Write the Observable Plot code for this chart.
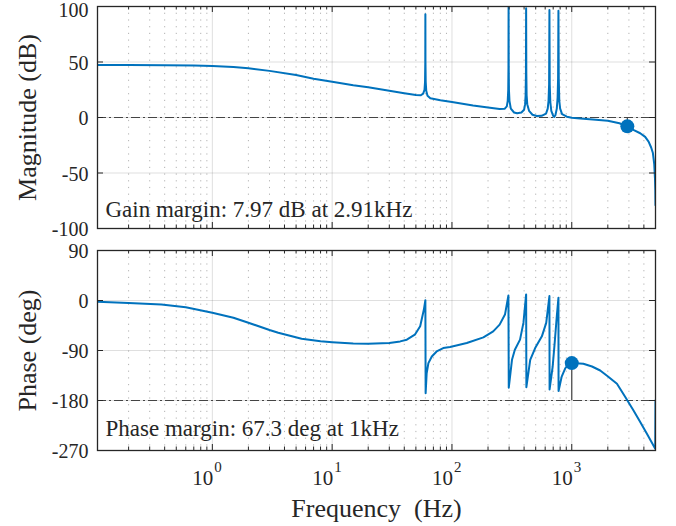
<!DOCTYPE html>
<html><head><meta charset="utf-8">
<script src="https://cdn.jsdelivr.net/npm/d3@7"></script>
<script src="https://cdn.jsdelivr.net/npm/@observablehq/plot@0.6"></script>
<style>html,body{margin:0;padding:0;background:#fff}#chart svg{display:block}</style>
</head><body><div id="chart"></div>
<script>
// ---- data ----
const freqMag = [0.11,0.2,0.4,0.7,1,1.5,2,3,5,7,10,15,20,30,40,50,55,57.5,59,59.6,59.9,60,60.1,60.4,61,62.5,66,80,100,150,200,250,275,287,292,295,296.3,297,297.7,299,302,310,330,350,380,400,408,412,414.5,416,417.5,420,425,440,470,510,560,610,630,640,647,651,655,662,675,700,713,730,750,762,769,774,779,787,800,830,910,1000,1175,1500,2000,2500,2910,3300,3725,4100,4378,4600,4756,4880,4950,4985,5000];
const magDB = [47.3,47.3,47.1,46.8,46.4,45.5,44.3,42.0,38.2,35.0,32.2,29.0,27.2,24.0,21.8,20.2,20.0,21.5,25,32,50,93,50,32,24,19.5,17.3,15.5,13.9,10.8,9.0,7.6,7.8,10,15,25,45,104,45,25,15,8,4.5,3.8,4.5,7,12,20,40,98.4,40,20,12,6,2.5,1.3,1.5,3.5,8,15,30,96.8,30,14,6,1.5,0.5,2,8,18,35,96.2,35,15,8,3,0.7,-0.2,-0.8,-1.8,-2.9,-5.2,-7.97,-11.3,-14.2,-17.5,-21.8,-27,-32,-42,-55,-66,-79];
const freqPhase = [0.11,0.2,0.376,0.6,1,1.5,2,3,3.55,5.56,8,10,15,20,30,37,42,49,54.3,58.3,60,60.3,61.5,63.6,67.9,74.5,84.6,96.4,133,183,221,250,277,296,298,317,335,370,395,416,418,450,495,563,612,651,653,693,720,750,774,776,824,884,937,1000,1250,1476,1727,2006,2384,2780,3277,3707,4240,4975,5000];
const phaseDeg = [-2.4,-4.5,-7.2,-12,-22,-31,-40,-53,-58,-69,-73.5,-75,-77.5,-77.8,-76.5,-73.6,-70.5,-61.5,-46.5,-16.3,0.5,-167,-131,-112.7,-100.7,-91.7,-85.6,-83.8,-76.5,-66.3,-55.5,-43.4,-25.3,9,-157,-106.7,-88.6,-70.5,-40.3,11,-156,-106.7,-85.6,-64.5,-40.3,8,-160,-118.8,-76.5,-28.4,5,-163,-137,-121.8,-115.8,-112.7,-113.9,-118.8,-126,-136.8,-150,-172.8,-198,-217.8,-240,-267,-180];
const gainMargin = {f: 2910, v: -7.97};
const phaseMargin = {f: 1000, v: -112.7};
const magTicks = [100, 50, 0, -50, -100];
const phaseTicks = [90, 0, -90, -180, -270];
const decades = [1, 10, 100, 1000];
const decadeExp = ["0", "1", "2", "3"];
const minorTicks = [0.1, 1, 10, 100, 1000].flatMap(d => [2,3,4,5,6,7,8,9].map(k => k * d)).filter(v => v <= 5000);
const xDomain = [0.11, 5000];
const magLabel = "Magnitude (dB)";
const phaseLabel = "Phase (deg)";
const xLabel = "Frequency\u00A0\u00A0(Hz)";
const gmText = "Gain margin: 7.97 dB at 2.91kHz";
const pmText = "Phase margin: 67.3 deg at 1kHz";

const magData = freqMag.map((f, i) => ({f, v: magDB[i]}));
const phaseData = freqPhase.map((f, i) => ({f, v: phaseDeg[i]}));

// ---- drawing ----
const W = 676, ML = 97, MR = 21;
const font = "Liberation Serif";
const ink = "#262626";
const blue = "#0072BD";

function panel({height, mt, mb, ydomain, yticks, ref, data, marker, label, note, noteDy, extra = []}) {
  const ph = height - mt - mb;
  const pw = W - ML - MR;
  const top = yticks[0];
  return Plot.plot({
    width: W, height, marginLeft: ML, marginRight: MR, marginTop: mt, marginBottom: mb,
    style: {fontFamily: font, color: ink, background: "white", overflow: "visible"},
    x: {type: "log", domain: xDomain, axis: null},
    y: {domain: ydomain, axis: null},
    marks: [
      Plot.ruleX(minorTicks, {stroke: ink, strokeOpacity: 0.35, strokeDasharray: "1.2,5.5", strokeWidth: 1}),
      Plot.ruleX(decades, {stroke: ink, strokeOpacity: 0.15, strokeWidth: 1}),
      Plot.ruleY(yticks, {stroke: ink, strokeOpacity: 0.15, strokeWidth: 1}),
      Plot.ruleY([ref], {stroke: "#444", strokeWidth: 1.2, strokeDasharray: "9,3,2,3"}),
      Plot.ruleX([marker], {x: "f", y1: ref, y2: "v", stroke: "#444", strokeWidth: 1.2}),
      Plot.line(data, {x: "f", y: "v", stroke: blue, strokeWidth: 2, clip: true}),
      Plot.dot([marker], {x: "f", y: "v", r: 7, fill: blue, stroke: "none"}),
      Plot.frame({stroke: ink, strokeWidth: 1.3}),
      Plot.tickY(yticks, {stroke: ink, insetRight: pw - 6}),
      Plot.tickY(yticks, {stroke: ink, insetLeft: pw - 6}),
      Plot.tickX(decades, {stroke: ink, insetBottom: ph - 6}),
      Plot.tickX(decades, {stroke: ink, insetTop: ph - 6}),
      Plot.tickX(minorTicks, {stroke: ink, insetBottom: ph - 3.5}),
      Plot.tickX(minorTicks, {stroke: ink, insetTop: ph - 3.5}),
      Plot.text(yticks.slice(1), {y: d => d, text: d => String(d), frameAnchor: "left", textAnchor: "end", dx: -9, dy: 1.5, fontSize: 20, fontFamily: font, fill: ink}),
      Plot.text([top], {y: d => d, text: d => String(d), frameAnchor: "left", textAnchor: "end", dx: -9, dy: mt < 8 ? 4.5 : 1.5, fontSize: 20, fontFamily: font, fill: ink}),
      Plot.text([label], {text: d => d, frameAnchor: "left", textAnchor: "middle", lineAnchor: "middle", dx: -70, rotate: -90, fontSize: 26, fontFamily: font, fill: ink}),
      Plot.text([note], {text: d => d, frameAnchor: "bottom-left", textAnchor: "start", dx: 8, dy: noteDy, fontSize: 23, fontFamily: font, fill: ink}),
      ...extra
    ]
  });
}

const magPlot = panel({
  height: 240, mt: 6, mb: 12, ydomain: [-100, 100], yticks: magTicks, ref: 0,
  data: magData, marker: gainMargin, label: magLabel, note: gmText, noteDy: -12
});
const phasePlot = panel({
  height: 286, mt: 10, mb: 76, ydomain: [-270, 90], yticks: phaseTicks, ref: -180,
  data: phaseData, marker: phaseMargin, label: phaseLabel, note: pmText, noteDy: -15,
  extra: [
    Plot.text(decades, {x: d => d, text: () => "10", frameAnchor: "bottom", textAnchor: "end", lineAnchor: "middle", dx: 1, dy: 28, fontSize: 21, fontFamily: font, fill: ink}),
    Plot.text(decades, {x: d => d, text: (d, i) => decadeExp[i], frameAnchor: "bottom", textAnchor: "start", lineAnchor: "middle", dx: 2, dy: 17, fontSize: 15, fontFamily: font, fill: ink}),
    Plot.text([xLabel], {text: d => d, frameAnchor: "bottom", textAnchor: "middle", lineAnchor: "middle", dy: 58, fontSize: 26, fontFamily: font, fill: ink})
  ]
});
const root = document.getElementById("chart");
root.appendChild(magPlot);
root.appendChild(phasePlot);
</script>
</body></html>
